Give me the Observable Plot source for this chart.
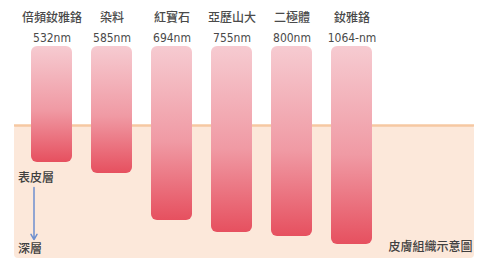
<!DOCTYPE html>
<html><head><meta charset="utf-8">
<script src="https://cdn.jsdelivr.net/npm/d3@7"></script>
<script src="https://cdn.jsdelivr.net/npm/@observablehq/plot@0.6"></script>
<style>body{margin:0;background:#fff} svg{display:block}</style>
</head><body><div id="chart"></div>
<script>
// categories and values
const lasers = ["倍頻釹雅鉻","染料","紅寶石","亞歷山大","二極體","釹雅鉻"];
const wavelengths = ["532nm","585nm","694nm","755nm","800nm","1064-nm"];
const depths = [116,127,174,186,190,198];      // relative penetration depth
const skinSurface = [79];                        // depth where skin begins
const skinBottom = 212;
const layerLabels = ["表皮層","深層"];
const layerDepths = [132,203];
const arrowDepths = [141,193];
const caption = "皮膚組織示意圖";
const captionDepth = 201;

const font = "'Noto Sans CJK TC','Noto Sans CJK SC',sans-serif";

const chart = Plot.plot({
  width: 483, height: 259,
  marginTop: 46, marginBottom: 1, marginLeft: 10, marginRight: 89,
  style: {fontFamily: font, background: "transparent"},
  x: {type: "band", domain: lasers, paddingInner: 0.31, paddingOuter: 0.31, axis: null},
  y: {domain: [0, skinBottom], reverse: true, axis: null},
  marks: [
    Plot.rect(skinSurface, {y1: d => d, y2: skinBottom, fill: "#fce8da", insetLeft: 4, insetRight: -80, rx: 4}),
    Plot.ruleY(skinSurface, {y: d => d, stroke: "#f6c8a2", strokeWidth: 2.5, insetLeft: 4, insetRight: -80}),
    Plot.barY(lasers, {x: d => d, y1: 0, y2: (d, i) => depths[i], rx: 6, fill: "#ee8f98", className: "laserbar"}),
    Plot.text(lasers, {x: d => d, y: 0, dy: -28.5, text: d => d, fontSize: 12, fill: "#4a4a4a", fontWeight: 500}),
    Plot.text(wavelengths, {x: (d, i) => lasers[i], y: 0, dy: -8.5, text: d => d, fontSize: 12, fill: "#4a4a4a", fontFamily: "'Liberation Sans Narrow','DejaVu Sans Condensed',sans-serif"}),
    Plot.text(layerLabels, {x: () => lasers[0], y: (d, i) => layerDepths[i], text: d => d, dx: -34, textAnchor: "start", fontSize: 12, fill: "#404040", fontWeight: 500}),
    Plot.arrow([arrowDepths], {x1: () => lasers[0], x2: () => lasers[0], y1: d => d[0], y2: d => d[1], dx: -18, stroke: "#6d8fcf", strokeWidth: 1.5, headLength: 6}),
    Plot.text([caption], {y: captionDepth, frameAnchor: "right", dx: 78, textAnchor: "end", text: d => d, fontSize: 12, fill: "#404040", fontWeight: 500})
  ]
});

const svg = d3.select(chart);
const defs = svg.insert("defs", ":first-child");
const g = defs.append("linearGradient").attr("id", "barGrad").attr("x1", 0).attr("y1", 0).attr("x2", 0).attr("y2", 1);
g.append("stop").attr("offset", "0%").attr("stop-color", "#f6cbd1");
g.append("stop").attr("offset", "55%").attr("stop-color", "#f09aa4");
g.append("stop").attr("offset", "100%").attr("stop-color", "#e6505f");
svg.selectAll(".laserbar rect").attr("fill", "url(#barGrad)");
document.getElementById("chart").appendChild(chart);
</script>
</body></html>
